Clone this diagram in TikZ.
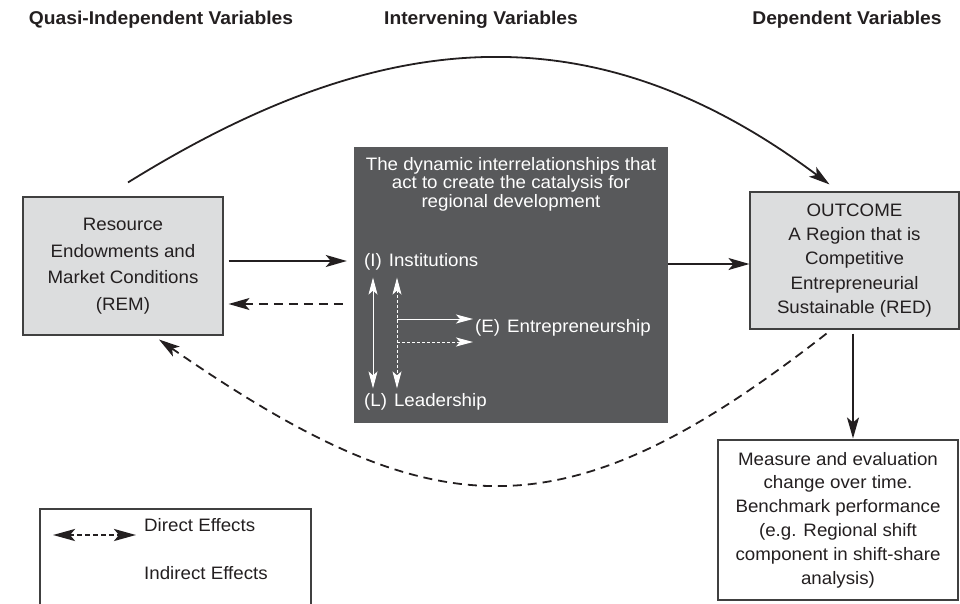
\documentclass[tikz,border=0pt]{standalone}
\usepackage{fontspec}
\setmainfont{Liberation Sans}[FakeStretch=1.04]
\usetikzlibrary{arrows.meta}

\begin{document}
\begin{tikzpicture}[x=1pt,y=-1pt,
  head/.style={font=\fontsize{18.5pt}{20pt}\selectfont\bfseries,text=rd_ink,anchor=base},
  graybox/.style={draw=rd_edge,line width=1.1pt,fill=rd_box,text=rd_ink,align=center,inner sep=0pt},
  plainbox/.style={draw=rd_edge,line width=1.1pt,fill=white,text=rd_ink,align=center,inner sep=0pt},
  darkbox/.style={fill=rd_dark,inner sep=0pt},
  wtext/.style={text=white,inner sep=0pt,font=\fontsize{18pt}{18.5pt}\selectfont},
  legtext/.style={text=rd_ink,inner sep=0pt,anchor=west,font=\fontsize{18pt}{20pt}\selectfont},
  link/.style={draw=rd_ink,line width=1.8pt,>={Stealth[length=21pt,width=12pt,inset=5pt]}},
  dlink/.style={link,dash pattern=on 9pt off 6pt},
  wlink/.style={draw=white,line width=1pt,>={Stealth[length=17pt,width=9pt,inset=4pt]}},
  wdlink/.style={wlink,dash pattern=on 3pt off 2pt},
  leglink/.style={draw=rd_ink,line width=2.6pt,dash pattern=on 5pt off 3pt,
    >={Stealth[length=22pt,width=12pt,inset=5pt]}}]

% ------------------------------------------------ figure colors
\definecolor{rd_ink}{RGB}{35,31,32}     %#231F20
\definecolor{rd_box}{RGB}{220,221,222}  %#DCDDDE
\definecolor{rd_dark}{RGB}{88,89,91}    %#58595B
\definecolor{rd_edge}{RGB}{64,64,64}    %#404040

\useasboundingbox (0,0) rectangle (960,604);

% column headings
\node[head] (hquasi) at (161,25) {Quasi-Independent Variables};
\node[head] (hinter) at (481,25) {Intervening Variables};
\node[head] (hdep)   at (847,25) {Dependent Variables};

% boxes
\node[graybox,minimum width=200pt,minimum height=138pt,font=\fontsize{18pt}{26.5pt}\selectfont]
  (rem) at (123,266) {Resource\\Endowments and\\Market Conditions\\(REM)};

\node[darkbox,minimum width=314pt,minimum height=276pt] (dyn) at (511,285) {};
\node[wtext,align=center] (dyntitle) at (511,184)
  {The dynamic interrelationships that\\act to create the catalysis for\\regional development};
\node[wtext,anchor=west] (inst)  at (364,262) {(I)\hspace{7pt}Institutions};
\node[wtext,anchor=west] (entre) at (475,328) {(E)\hspace{7pt}Entrepreneurship};
\node[wtext,anchor=west] (lead)  at (364,402) {(L)\hspace{7pt}Leadership};

\node[graybox,minimum width=209pt,minimum height=137pt,font=\fontsize{18pt}{24.3pt}\selectfont]
  (outcome) at (854.5,260.5) {OUTCOME\\A Region that is\\Competitive\\Entrepreneurial\\Sustainable (RED)};

\node[plainbox,minimum width=240pt,minimum height=160pt,font=\fontsize{18pt}{23.8pt}\selectfont]
  (measure) at (838,520) {Measure and evaluation\\change over time.\\Benchmark performance\\(e.g. Regional shift\\component in shift-share\\analysis)};

% arrows between the boxes
\coordinate (remout)  at ([yshift=5pt]rem.east);
\coordinate (remback) at ([yshift=-38pt]rem.east);
\coordinate (dynout)  at ([yshift=21pt]dyn.east);
\coordinate (outdown) at ([xshift=-1.5pt]outcome.south);

\draw[link,->,shorten <=5pt,shorten >=7pt] (remout) -- (remout -| dyn.west);
\draw[dlink,<-,shorten <=5pt,shorten >=7pt] (remback) -- (remback -| dyn.west);
\draw[link,->] (dynout) -- (dynout -| outcome.west);
\draw[link,->,shorten <=4pt,shorten >=1pt] (outdown) -- (outdown |- measure.north);

\draw[link,->] ([shift={(5pt,14pt)}]rem.north) .. controls (380,26) and (592,7) .. ([shift={(-25pt,7pt)}]outcome.north);
\draw[dlink,->] ([shift={(-28pt,-4pt)}]outcome.south) .. controls (562,540) and (433,529) .. ([shift={(36pt,-4pt)}]rem.south);

% links inside the dark box
\coordinate (stemtop) at ([shift={(33pt,-7pt)}]inst.south west);
\coordinate (e1) at ([shift={(-2pt,9pt)}]entre.west);
\coordinate (e2) at ([shift={(-2pt,-14pt)}]entre.west);

\draw[wlink,<->] ([shift={(9pt,-7pt)}]inst.south west) -- ([shift={(9pt,5pt)}]lead.north west);
\draw[wdlink,<->] (stemtop) -- ([shift={(33pt,5pt)}]lead.north west);
\draw[wlink,->] (e1 -| stemtop) -- (e1);
\draw[wdlink,->] (e2 -| stemtop) -- (e2);

% legend
\draw[draw=rd_edge,line width=1.1pt] (40,604) -- (40,509) -- (311,509) -- (311,604);
\node[legtext] (ldirect)   at (144,525) {Direct Effects};
\node[legtext] (lindirect) at (144,573) {Indirect Effects};
\draw[leglink,<->] ([shift={(-91pt,-10pt)}]ldirect.west) -- ([shift={(-8pt,-10pt)}]ldirect.west);

\end{tikzpicture}
\end{document}
